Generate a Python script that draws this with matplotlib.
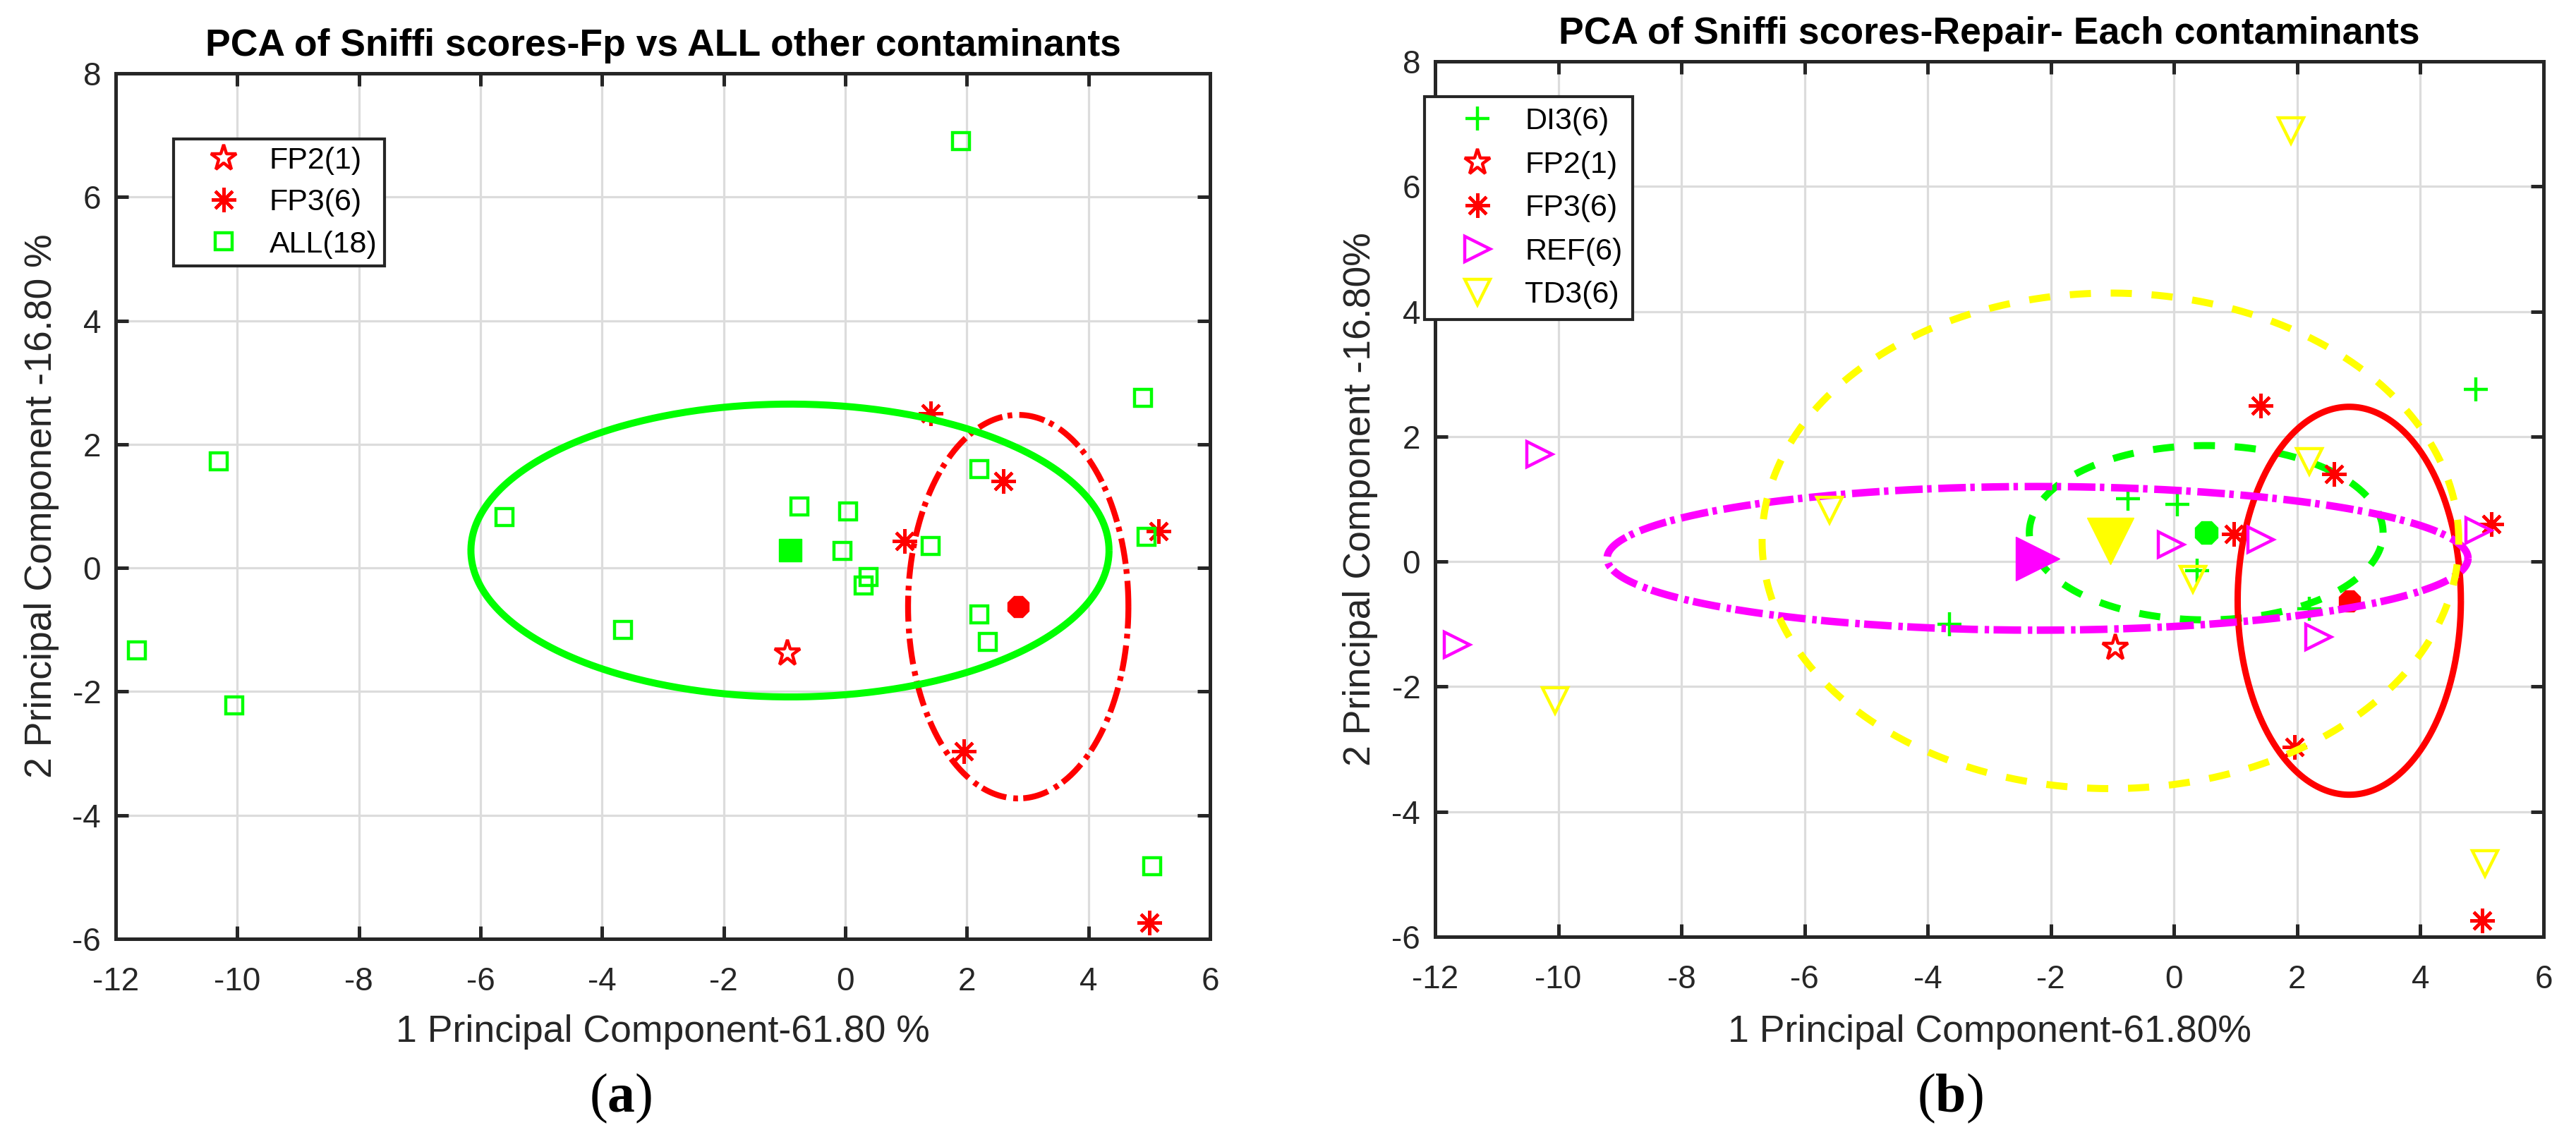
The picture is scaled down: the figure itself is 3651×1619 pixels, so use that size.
import numpy as np
import matplotlib
matplotlib.use('Agg')
import matplotlib.pyplot as plt

plt.rcParams['font.family'] = ['Liberation Sans', 'DejaVu Sans']
plt.rcParams['axes.unicode_minus'] = False
plt.rcParams['mathtext.fontset'] = 'custom'
plt.rcParams['mathtext.rm'] = 'Liberation Serif'
plt.rcParams['mathtext.bf'] = 'Liberation Serif:bold'

# ---------------- data (PC1, PC2 scores) ----------------
fp2_x = [-0.95]
fp2_y = [-1.38]
fp3_x = [1.40, 2.60, 0.97, 5.15, 1.95, 5.00]
fp3_y = [2.50, 1.40, 0.44, 0.60, -2.96, -5.74]
di3_x = [4.90, -0.75, 0.05, 0.38, -3.65, 2.20]
di3_y = [2.75, 1.00, 0.92, -0.15, -1.00, -0.75]
ref_x = [-10.30, -0.05, 1.40, 4.95, -11.65, 2.35]
ref_y = [1.72, 0.27, 0.35, 0.50, -1.33, -1.20]
td3_x = [1.90, 2.20, -5.60, 0.30, -10.05, 5.05]
td3_y = [6.90, 1.60, 0.82, -0.28, -2.22, -4.83]
all_x = di3_x + ref_x + td3_x
all_y = di3_y + ref_y + td3_y

x_ticks = [-12, -10, -8, -6, -4, -2, 0, 2, 4, 6]
y_ticks = [-6, -4, -2, 0, 2, 4, 6, 8]

titles = ['PCA of Sniffi scores-Fp vs ALL other contaminants',
          'PCA of Sniffi scores-Repair- Each contaminants']
xlabels = ['1 Principal Component-61.80 %', '1 Principal Component-61.80%']
ylabels = ['2 Principal Component -16.80 %', '2 Principal Component -16.80%']
panel_labels = [r'$(\mathbf{a})$', r'$(\mathbf{b})$']

GREEN = '#00FF00'
RED = '#FF0000'
MAG = '#FF00FF'
YEL = '#FFFF00'
DARK = '#262626'

W, H = 3651, 1619
fig = plt.figure(figsize=(W / 100, H / 100), dpi=100)
ax1 = fig.add_axes([164 / W, (H - 1331) / H, 1551 / W, 1227 / H])
ax2 = fig.add_axes([2034 / W, (H - 1328) / H, 1571 / W, 1241 / H])

theta = np.linspace(0, 2 * np.pi, 500)
MEW = 3.2


def ellipse(ax, xs, ys, color, ls, lw):
    xs = np.asarray(xs); ys = np.asarray(ys)
    cx, cy = xs.mean(), ys.mean()
    sx, sy = xs.std(ddof=1), ys.std(ddof=1)
    ax.plot(cx + sx * np.cos(theta), cy + sy * np.sin(theta), color=color,
            linestyle=ls, lw=lw, dash_capstyle='butt', solid_capstyle='butt')


def mean_marker(ax, xs, ys, color, marker, ms):
    ax.plot([np.mean(xs)], [np.mean(ys)], linestyle='none', marker=marker,
            ms=ms, mfc=color, mec=color, mew=1)


def pts(ax, xs, ys, color, marker, ms, label):
    h, = ax.plot(xs, ys, linestyle='none', marker=marker, ms=ms, mfc='none',
                 mec=color, mew=MEW, label=label)
    return h


STAR_MS = 28
AST = (8, 2, 0)
AST_MS = 25
SQ_MS = 17
PLUS_MS = 24
TRI_MS = 26

DASH = (0, (3.0, 2.8))
DASHDOT = (0, (3.7, 0.9, 0.6, 0.6))

# ---------------- panel (a) ----------------
h1 = pts(ax1, fp2_x, fp2_y, RED, '*', STAR_MS, 'FP2(1)')
h2 = pts(ax1, fp3_x, fp3_y, RED, AST, AST_MS, 'FP3(6)')
mean_marker(ax1, fp3_x, fp3_y, RED, '8', 23)
ellipse(ax1, fp3_x, fp3_y, RED, (0, (4.4, 1.2, 0.8, 0.9)), 6.0)
h3 = pts(ax1, all_x, all_y, GREEN, 's', SQ_MS, 'ALL(18)')
mean_marker(ax1, all_x, all_y, GREEN, 's', 23)
ellipse(ax1, all_x, all_y, GREEN, '-', 7.2)

leg1 = ax1.legend(handles=[h1, h2, h3], loc='upper left',
                  bbox_to_anchor=(246 / W, 1 - 197 / H),
                  bbox_transform=fig.transFigure, borderaxespad=0,
                  fontsize=31, frameon=True, fancybox=False, framealpha=1,
                  edgecolor=DARK, borderpad=0.25, labelspacing=0.45,
                  handlelength=2.8, handletextpad=0.1, numpoints=1)
leg1.get_frame().set_linewidth(3.0)

# ---------------- panel (b) ----------------
g1 = pts(ax2, di3_x, di3_y, GREEN, '+', PLUS_MS, 'DI3(6)')
mean_marker(ax2, di3_x, di3_y, GREEN, '8', 25)
ellipse(ax2, di3_x, di3_y, GREEN, DASH, 7.2)
g2 = pts(ax2, fp2_x, fp2_y, RED, '*', STAR_MS, 'FP2(1)')
g3 = pts(ax2, fp3_x, fp3_y, RED, AST, AST_MS, 'FP3(6)')
mean_marker(ax2, fp3_x, fp3_y, RED, '8', 23)
ellipse(ax2, fp3_x, fp3_y, RED, '-', 6.5)
g4 = pts(ax2, ref_x, ref_y, MAG, '>', TRI_MS, 'REF(6)')
mean_marker(ax2, ref_x, ref_y, MAG, '>', 45)
ellipse(ax2, ref_x, ref_y, MAG, DASHDOT, 7.6)
g5 = pts(ax2, td3_x, td3_y, YEL, 'v', TRI_MS, 'TD3(6)')
mean_marker(ax2, td3_x, td3_y, YEL, 'v', 47)
ellipse(ax2, td3_x, td3_y, YEL, DASH, 7.2)

leg2 = ax2.legend(handles=[g1, g2, g3, g4, g5], loc='upper left',
                  bbox_to_anchor=(2019 / W, 1 - 137 / H),
                  bbox_transform=fig.transFigure, borderaxespad=0,
                  fontsize=31, frameon=True, fancybox=False, framealpha=1,
                  edgecolor=DARK, borderpad=0.35, labelspacing=0.5,
                  handlelength=2.8, handletextpad=0.15, numpoints=1)
leg2.get_frame().set_linewidth(3.0)

# ---------------- common styling ----------------
label_xy = [(-0.0872, -0.0516), (-0.0886, -0.0516)]
for i, ax in enumerate([ax1, ax2]):
    ax.set_xlim(-12, 6)
    ax.set_ylim(-6, 8)
    ax.set_xticks(x_ticks)
    ax.set_yticks(y_ticks)
    ax.grid(True, color='#dcdcdc', lw=2.3)
    ax.set_axisbelow(True)
    for sp in ax.spines.values():
        sp.set_color(DARK)
        sp.set_linewidth(3.6)
    ax.tick_params(direction='in', length=13, width=3.6, color=DARK,
                   labelcolor=DARK, labelsize=33, top=True, right=True)
    ax.tick_params(axis='x', pad=28)
    ax.tick_params(axis='y', pad=15)
    ax.set_title(titles[i], fontsize=38.5, fontweight='bold', pad=18, color='black')
    ax.set_xlabel(xlabels[i], fontsize=38.5, color=DARK)
    ax.set_ylabel(ylabels[i], fontsize=38.5, color=DARK)
    ax.xaxis.set_label_coords(0.5, label_xy[i][0])
    ax.yaxis.set_label_coords(label_xy[i][1], 0.5)

fig.text(880 / W, 1 - 1557 / H, panel_labels[0], ha='center', va='center', fontsize=56)
fig.text(2764 / W, 1 - 1557 / H, panel_labels[1], ha='center', va='center', fontsize=56)

fig.savefig('out.png', dpi=100, facecolor='white')
